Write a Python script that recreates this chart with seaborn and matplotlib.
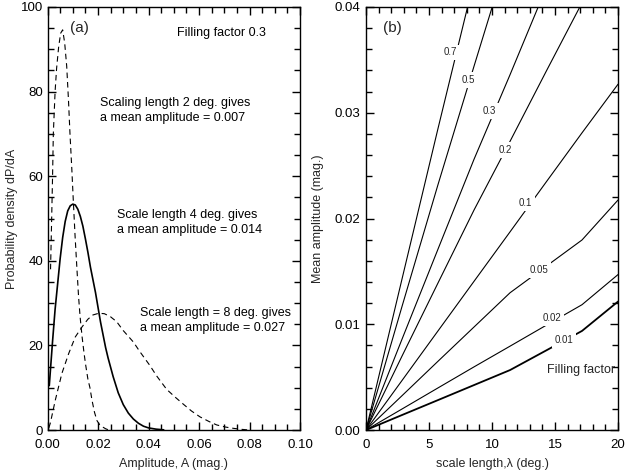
import numpy as np
import pandas as pd
import matplotlib
matplotlib.use("Agg")
import matplotlib.pyplot as plt
from matplotlib.ticker import MultipleLocator, FormatStrFormatter
import seaborn as sns

sns.set_theme(style="ticks")
plt.rcParams.update({
    "font.family": ["Liberation Sans", "DejaVu Sans"],
    "xtick.direction": "in", "ytick.direction": "in",
    "xtick.top": True, "xtick.bottom": True,
    "ytick.left": True, "ytick.right": True,
    "xtick.major.width": 1.0, "ytick.major.width": 1.0,
    "xtick.minor.width": 1.0, "ytick.minor.width": 1.0,
    "xtick.color": "black", "ytick.color": "black",
    "xtick.labelsize": 9.5, "ytick.labelsize": 9.5,
    "xtick.major.pad": 6.5, "xtick.minor.pad": 6.5,
    "axes.edgecolor": "black", "axes.linewidth": 1.0,
})

# ---- panel (a): probability density of amplitude for three scale lengths ----
amp_2deg = [0.0012, 0.0015, 0.002, 0.0023, 0.003, 0.0036, 0.0044, 0.0052, 0.006,
            0.0068, 0.0076, 0.0083, 0.0089, 0.0096, 0.0102, 0.0109, 0.0116, 0.0123,
            0.0129, 0.0137, 0.0144, 0.015, 0.016, 0.0168, 0.0176, 0.0186, 0.0196,
            0.0206, 0.0216, 0.023, 0.0243]
pdf_2deg = [38, 46, 60, 70, 80, 85.5, 90.5, 93.8, 94.6,
            91.5, 86, 78, 70, 62, 54.4, 46, 38.6, 31.5,
            26.8, 22, 18.5, 15.8, 12, 10, 7.1, 4.2, 2.2,
            1.3, 0.8, 0.3, 0.0]

amp_4deg = [0.0007, 0.002, 0.003, 0.004, 0.005, 0.006, 0.007, 0.008, 0.009, 0.010,
            0.011, 0.012, 0.013, 0.014, 0.015, 0.016, 0.017, 0.018, 0.019, 0.020,
            0.021, 0.022, 0.023, 0.024, 0.026, 0.028, 0.030, 0.032, 0.034, 0.036,
            0.038, 0.040, 0.043, 0.046]
pdf_4deg = [10.5, 21, 28.5, 34.5, 40.5, 45.5, 49.3, 51.8, 53, 53.4,
            53.2, 52.2, 50.5, 48.2, 45.2, 42, 38.5, 35.5, 32.5, 29,
            25.5, 22.5, 19.5, 17, 12.6, 8.8, 6, 4, 2.6, 1.6,
            0.9, 0.5, 0.2, 0.05]

amp_8deg = [0.0005, 0.0011, 0.0031, 0.0057, 0.0084, 0.011, 0.0137, 0.016, 0.018,
            0.0203, 0.0225, 0.0249, 0.0274, 0.030, 0.034, 0.0366, 0.0406, 0.0432,
            0.0472, 0.0505, 0.0538, 0.057, 0.0604, 0.064, 0.067, 0.0705, 0.0736,
            0.077, 0.080]
pdf_8deg = [0.5, 1.6, 7.1, 13.4, 18.1, 22, 24.4, 26.2, 27.2,
            27.6, 27.5, 26.8, 25.6, 23.5, 20.8, 18.5, 15.2, 12.8,
            9.6, 7.8, 6.1, 4.5, 3.1, 2, 1.2, 0.7, 0.4,
            0.15, 0.0]

# ---- panel (b): mean amplitude vs scale length for several filling factors ----
scale_len = [0, 2.86, 5.71, 8.57, 11.43, 14.29, 17.14, 20.0]
fill_factors = ["0.7", "0.5", "0.3", "0.2", "0.1", "0.05", "0.02", "0.01"]
mean_amp = {
    "0.7":  [0, 0.0143, 0.0285, 0.0425],
    "0.5":  [0, 0.0117, 0.0232, 0.0344, 0.0455],
    "0.3":  [0, 0.0086, 0.0171, 0.0256, 0.0336, 0.0418],
    "0.2":  [0, 0.0070, 0.0139, 0.0208, 0.0273, 0.0339, 0.0404],
    "0.1":  [0, 0.00469, 0.00937, 0.01406, 0.01874, 0.02344, 0.0281, 0.0327],
    "0.05": [0, 0.00325, 0.0065, 0.00974, 0.01298, 0.01548, 0.01797, 0.02175],
    "0.02": [0, 0.00199, 0.00398, 0.00597, 0.00793, 0.0099, 0.01185, 0.0147],
    "0.01": [0, 0.00142, 0.00283, 0.00425, 0.00567, 0.00752, 0.00937, 0.01215],
}
label_lambda = [6.67, 8.12, 9.79, 11.03, 12.67, 13.73, 14.76, 15.71]
label_amp = [0.0357, 0.0331, 0.0302, 0.0265, 0.0215, 0.0151, 0.01056, 0.0085]

fig = plt.figure(figsize=(6.26, 4.76), dpi=100)
ax1 = fig.add_axes([0.0759, 0.0966, 0.4034, 0.8887])
ax2 = fig.add_axes([0.5847, 0.0966, 0.4026, 0.8887])

dash = (0, (5, 3.5))
sns.lineplot(x=amp_2deg, y=pdf_2deg, ax=ax1, color="black", lw=0.8,
             linestyle=dash, estimator=None, sort=False)
sns.lineplot(x=amp_4deg, y=pdf_4deg, ax=ax1, color="black", lw=1.2,
             estimator=None, sort=False)
sns.lineplot(x=amp_8deg, y=pdf_8deg, ax=ax1, color="black", lw=0.8,
             linestyle=dash, estimator=None, sort=False)

ax1.set_xlim(0, 0.10)
ax1.set_ylim(0, 100)
ax1.xaxis.set_major_locator(MultipleLocator(0.02))
ax1.xaxis.set_minor_locator(MultipleLocator(0.005))
ax1.xaxis.set_major_formatter(FormatStrFormatter("%.2f"))
ax1.yaxis.set_major_locator(MultipleLocator(20))
ax1.yaxis.set_minor_locator(MultipleLocator(5))
ax1.set_xlabel("Amplitude, A (mag.)", fontsize=9, labelpad=5)
ax1.set_ylabel("Probability density dP/dA", fontsize=9, labelpad=2.5)

txt = dict(fontsize=9, ha="left", va="center", color="black")
ax1.text(0.0089, 95.0, "(a)", fontsize=11, ha="left", va="center")
ax1.text(0.0512, 93.8, "Filling factor 0.3", **txt)
ax1.text(0.0208, 77.4, "Scaling length 2 deg. gives", **txt)
ax1.text(0.0208, 73.7, "a mean amplitude = 0.007", **txt)
ax1.text(0.0274, 50.8, "Scale length 4 deg. gives", **txt)
ax1.text(0.0274, 47.3, "a mean amplitude = 0.014", **txt)
ax1.text(0.0366, 27.6, "Scale length = 8 deg. gives", **txt)
ax1.text(0.0366, 24.2, "a mean amplitude = 0.027", **txt)

for ff in fill_factors:
    vals = mean_amp[ff]
    sns.lineplot(x=scale_len[:len(vals)], y=vals, ax=ax2, color="black",
                 lw=1.3 if ff == "0.01" else 0.8, estimator=None, sort=False)

for ff, lx, ly in zip(fill_factors, label_lambda, label_amp):
    ax2.text(lx, ly, ff, fontsize=7, ha="center", va="center", zorder=5,
             bbox=dict(boxstyle="square,pad=0.3", fc="white", ec="none"))

ax2.text(1.35, 0.0380, "(b)", fontsize=11, ha="left", va="center")
ax2.text(19.8, 0.00567, "Filling factor", fontsize=9, ha="right", va="center")

ax2.set_xlim(0, 20)
ax2.set_ylim(0, 0.04)
ax2.xaxis.set_major_locator(MultipleLocator(5))
ax2.xaxis.set_minor_locator(MultipleLocator(1))
ax2.yaxis.set_major_locator(MultipleLocator(0.01))
ax2.yaxis.set_minor_locator(MultipleLocator(0.002))
ax2.yaxis.set_major_formatter(FormatStrFormatter("%.2f"))
ax2.set_xlabel("scale length,\u03bb (deg.)", fontsize=9, labelpad=5)
ax2.set_ylabel("Mean amplitude (mag.)", fontsize=9, labelpad=7)

for ax in (ax1, ax2):
    for s in ax.spines.values():
        s.set_visible(True)
    ax.tick_params(which="both", direction="in", top=True, right=True,
                   bottom=True, left=True)
    ax.tick_params(which="major", length=6)
    ax.tick_params(which="minor", length=4)
ax1.tick_params(axis="y", which="both", pad=3)
ax2.tick_params(axis="y", which="both", pad=4.3)

fig.savefig("out.png", dpi=100, facecolor="white")
